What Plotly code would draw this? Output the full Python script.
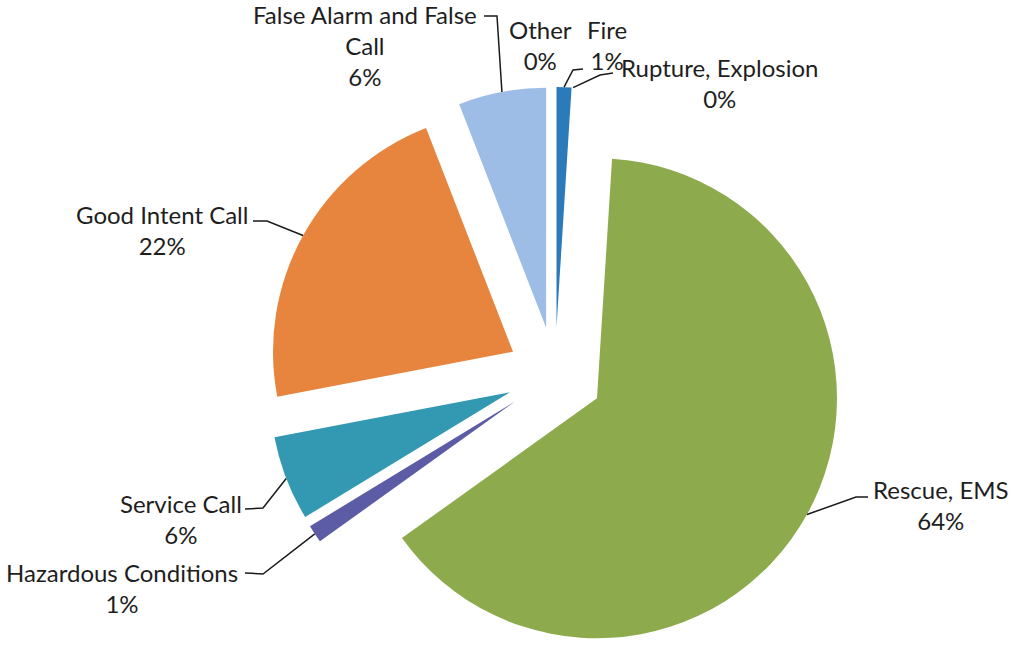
import math
import plotly.graph_objects as go

# Incident types, in clockwise order starting at 12 o'clock
categories = [
    "Fire",
    "Rupture, Explosion",
    "Rescue, EMS",
    "Hazardous Conditions",
    "Service Call",
    "Good Intent Call",
    "False Alarm and False Call",
    "Other",
]
shares = [1.0, 0.0, 64.1, 1.2, 5.7, 22.1, 5.9, 0.0]
slice_colors = ["#2b7bba", "#c0504d", "#8dab4c", "#5c5ca6",
                "#3399b3", "#e7853e", "#9ebde6", "#d99795"]

# How each category name is broken over lines in its label
label_names = {
    "False Alarm and False Call": "False Alarm and False<br>Call",
}

# Page and pie geometry (pixels)
W, H = 1011, 663
CX, CY = 555, 375
RADIUS = 240
PULL = 0.2

# Label placement: text centre, leader elbow, leader end next to the text
label_layout = {
    "Fire":                       dict(text=(607, 45), elbow=(573, 70), end=(583, 69)),
    "Rupture, Explosion":         dict(text=(719, 83), elbow=(600, 75), end=(613, 73)),
    "Rescue, EMS":                dict(text=(941, 505), elbow=(856, 497), end=(868, 497)),
    "Hazardous Conditions":       dict(text=(122, 588), elbow=(263, 574), end=(245, 573)),
    "Service Call":               dict(text=(181, 519), elbow=(263, 508), end=(245, 509)),
    "Good Intent Call":           dict(text=(162, 230), elbow=(267, 221), end=(253, 221)),
    "False Alarm and False Call": dict(text=(365, 46), elbow=(497, 16), end=(484, 16)),
    "Other":                      dict(text=(540, 45), elbow=None, end=None),
}


def px_to_paper(x, y):
    return x / W, 1 - y / H


half = RADIUS * (1 + PULL)
domain_x = [(CX - half - 20) / W, (CX + half + 20) / W]
domain_y = [max(0.0, 1 - (CY + half) / H), 1 - (CY - half) / H]

fig = go.Figure(
    go.Pie(
        labels=categories,
        values=shares,
        sort=False,
        direction="clockwise",
        rotation=0,
        pull=[PULL] * len(shares),
        marker=dict(colors=slice_colors, line=dict(width=0)),
        textinfo="none",
        hoverinfo="label+percent",
        showlegend=False,
        domain=dict(x=domain_x, y=domain_y),
    )
)

total = sum(shares)
offset = PULL * RADIUS
annotations = []
shapes = []
cum = 0.0
for name, value in zip(categories, shares):
    start = cum / total * 360
    cum += value
    end = cum / total * 360
    mid = math.radians((start + end) / 2)
    pct = round(100 * value / total)

    spec = label_layout[name]
    tx, ty = px_to_paper(*spec["text"])
    annotations.append(dict(
        x=tx, y=ty, xref="paper", yref="paper",
        xanchor="center", yanchor="middle", align="center",
        text=f"{label_names.get(name, name)}<br>{pct}%",
        showarrow=False,
        font=dict(family="Lato", size=24, color="#1e1e1e"),
    ))

    if spec["elbow"] is not None:
        # leader line from the middle of the slice's outer arc
        ax = CX + (offset + RADIUS) * math.sin(mid)
        ay = CY - (offset + RADIUS) * math.cos(mid)
        pts = [px_to_paper(ax, ay), px_to_paper(*spec["elbow"]), px_to_paper(*spec["end"])]
        path = "M {:.5f},{:.5f} L {:.5f},{:.5f} L {:.5f},{:.5f}".format(
            pts[0][0], pts[0][1], pts[1][0], pts[1][1], pts[2][0], pts[2][1])
        shapes.append(dict(type="path", path=path, xref="paper", yref="paper",
                           line=dict(color="#1a1a1a", width=1.5)))

fig.update_layout(
    width=W, height=H,
    margin=dict(l=0, r=0, t=0, b=0),
    paper_bgcolor="white",
    plot_bgcolor="white",
    annotations=annotations,
    shapes=shapes,
)

fig.write_html("out.html")
